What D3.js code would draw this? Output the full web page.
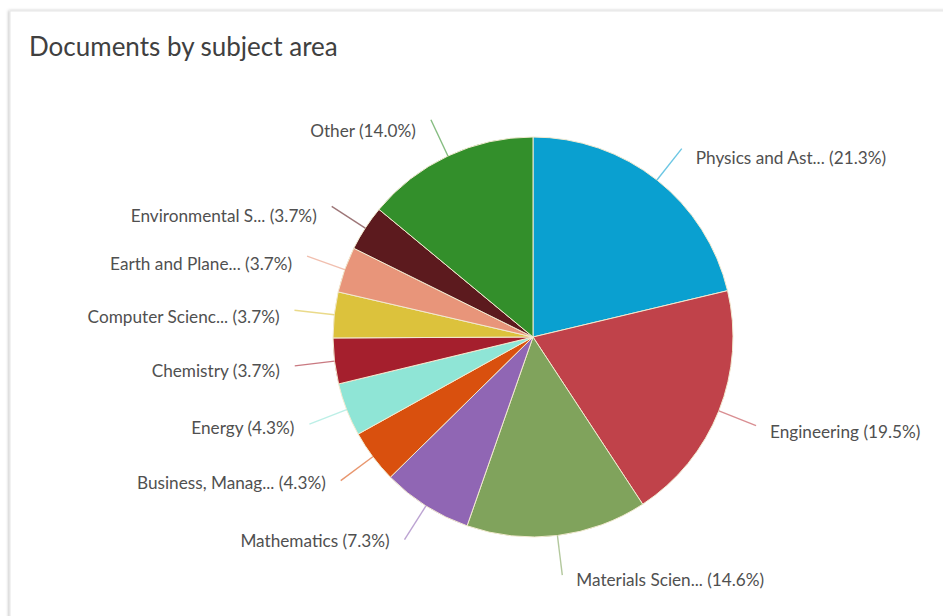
<!DOCTYPE html>
<html>
<head>
<meta charset="utf-8">
<script src="https://cdn.jsdelivr.net/npm/d3@7"></script>
<style>
  html, body { margin: 0; padding: 0; background: #ffffff; }
  svg { display: block; }
</style>
</head>
<body>
<svg id="chart" width="943" height="616"></svg>
<script>
const categories = [
  "Physics and Ast...", "Engineering", "Materials Scien...", "Mathematics",
  "Business, Manag...", "Energy", "Chemistry", "Computer Scienc...",
  "Earth and Plane...", "Environmental S...", "Other"
];
const percents = [21.3, 19.5, 14.6, 7.3, 4.3, 4.3, 3.7, 3.7, 3.7, 3.7, 14.0];
const colors = [
  "#0aa0d0", "#c0424a", "#80a35c", "#9066b4", "#d9500e", "#8fe5d6",
  "#a51f2d", "#dcc23c", "#e8957a", "#5c1a1e", "#338f2b"
];
const title = "Documents by subject area";

const svg = d3.select("#chart");
const W = 943, H = 616;
const FONT = "Lato, 'Open Sans', sans-serif";

// card
const defs = svg.append("defs");
const f = defs.append("filter").attr("id", "sh").attr("x", "-5%").attr("y", "-5%").attr("width", "110%").attr("height", "110%");
f.append("feDropShadow").attr("dx", -1).attr("dy", 0).attr("stdDeviation", 1.5).attr("flood-color", "#000").attr("flood-opacity", 0.25);
svg.append("rect").attr("x", 10).attr("y", 11).attr("width", W + 20).attr("height", H + 20)
  .attr("fill", "#ffffff").attr("stroke", "#e6e6e6").attr("stroke-width", 1).attr("filter", "url(#sh)");

svg.append("text").attr("x", 29).attr("y", 56)
  .attr("font-family", FONT).attr("font-size", 26).attr("fill", "#404040")
  .text(title);

const cx = 533, cy = 337, R = 200, R2 = 240;
const data = categories.map((c, i) => ({ name: c, value: percents[i], color: colors[i] }));

const pie = d3.pie().value(d => d.value).sort(null);
const arcs = pie(data);
const arc = d3.arc().innerRadius(0).outerRadius(R);

const g = svg.append("g").attr("transform", `translate(${cx},${cy})`);
g.selectAll("path.slice").data(arcs).join("path")
  .attr("class", "slice")
  .attr("d", arc)
  .attr("fill", d => d.data.color)
  .attr("stroke", "#f2ead0")
  .attr("stroke-width", 1);

const pt = (a, r) => [Math.sin(a) * r, -Math.cos(a) * r];

arcs.forEach(d => {
  const mid = (d.startAngle + d.endAngle) / 2;
  const p1 = pt(mid, R), p2 = pt(mid, R2);
  const right = Math.sin(mid) >= 0;
  const c = Math.cos(mid);
  const dy = right ? 8.8 + 2.8 * c : 7.8 + 5.7 * c;
  g.append("line")
    .attr("x1", p1[0]).attr("y1", p1[1]).attr("x2", p2[0]).attr("y2", p2[1])
    .attr("stroke", d.data.color).attr("stroke-opacity", 0.6).attr("stroke-width", 1.4);
  g.append("text")
    .attr("x", p2[0] + (right ? 14 : -15))
    .attr("y", p2[1] + dy)
    .attr("dominant-baseline", "middle")
    .attr("text-anchor", right ? "start" : "end")
    .attr("font-family", FONT).attr("font-size", 17.2).attr("fill", "#505050")
    .text(`${d.data.name} (${d.data.value.toFixed(1)}%)`);
});
</script>
</body>
</html>
